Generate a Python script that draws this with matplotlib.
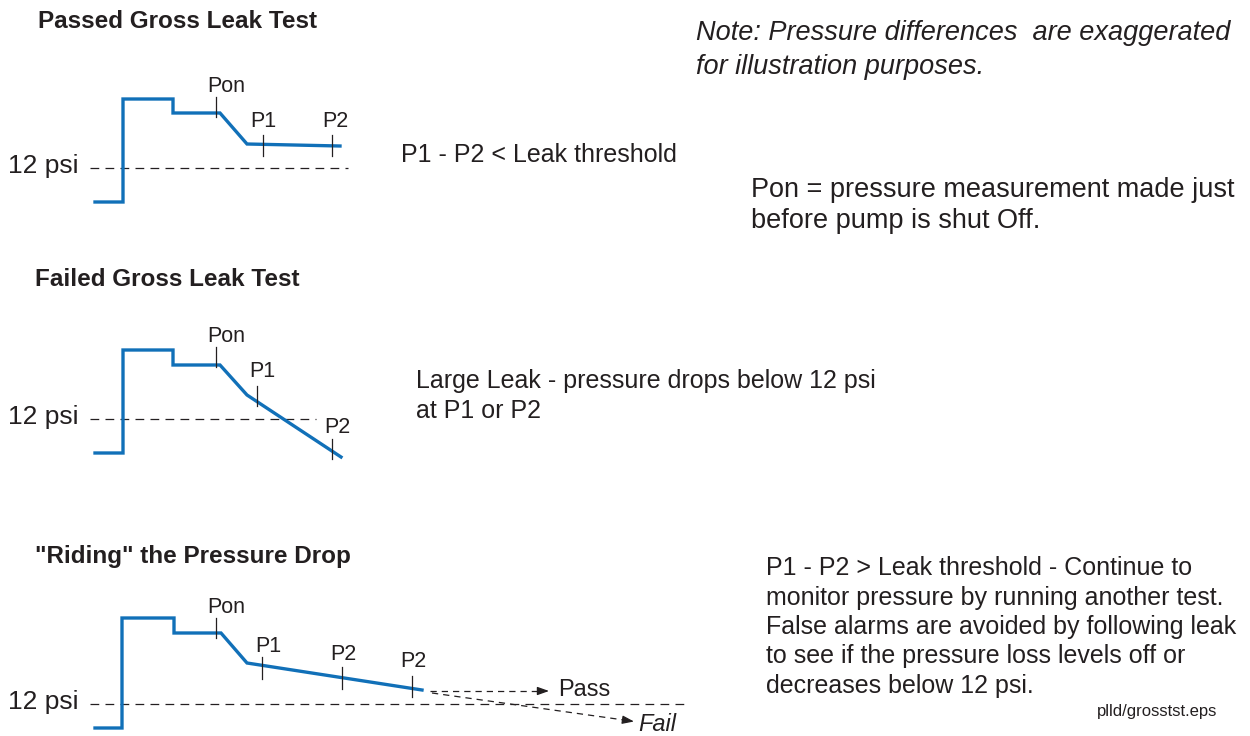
import numpy as np
import matplotlib
matplotlib.use('Agg')
import matplotlib.pyplot as plt

plt.rcParams['font.family'] = ['Liberation Sans', 'DejaVu Sans']

blue = '#1170b8'
ink = '#231f20'

# pressure traces (pixel coords of the diagram, y grows downward)
pass_x = [95, 123, 123, 173, 173, 220, 247, 340]
pass_y = [202, 202, 99, 99, 113, 113, 144, 146]
fail_x = [95, 123, 123, 173, 173, 220, 247, 341]
fail_y = [453, 453, 350, 350, 365, 365, 395, 457]
ride_x = [95, 122, 122, 174, 174, 221, 247, 422]
ride_y = [728, 728, 618, 618, 633, 633, 663, 690]

# 12 psi reference lines: y, x start, x end
ref_y = [168, 419, 704]
ref_x0 = [90, 90, 90]
ref_x1 = [348, 316, 690]

# measurement ticks: x, y top, y bottom, label, label x, label baseline
ticks = [
    (216, 97, 117, 'Pon', 226, 92),
    (263, 135, 156, 'P1', 263, 127),
    (332, 135, 156, 'P2', 335, 127),
    (216, 347, 367, 'Pon', 226, 342),
    (257, 386, 406, 'P1', 262, 377),
    (332, 439, 459, 'P2', 337, 433),
    (216, 618, 638, 'Pon', 226, 613),
    (262, 657, 679, 'P1', 268, 652),
    (342, 667, 689, 'P2', 343, 660),
    (412, 676, 697, 'P2', 413, 667),
]

titles = ['Passed Gross Leak Test', 'Failed Gross Leak Test', '"Riding" the Pressure Drop']
title_x = [38, 35, 35]
title_y = [28, 286, 563]

ride_lines = ['P1 - P2 > Leak threshold - Continue to',
              'monitor pressure by running another test.',
              'False alarms are avoided by following leak',
              'to see if the pressure loss levels off or',
              'decreases below 12 psi.']

fig = plt.figure(figsize=(12.5, 7.36), dpi=100)
ax = fig.add_axes([0, 0, 1, 1])
ax.set_xlim(0, 1250)
ax.set_ylim(736, 0)
ax.axis('off')

for y, x0, x1 in zip(ref_y, ref_x0, ref_x1):
    ax.plot([x0, x1], [y, y], color=ink, lw=0.9, dashes=(7, 5))
    ax.text(8, y + 5, '12 psi', fontsize=19, color=ink, va='baseline', ha='left')

for xs, ys in [(pass_x, pass_y), (fail_x, fail_y), (ride_x, ride_y)]:
    ax.plot(xs, ys, color=blue, lw=2.4, solid_joinstyle='miter')

for x, y0, y1, lab, lx, ly in ticks:
    ax.plot([x, x], [y0, y1], color=ink, lw=0.9)
    ax.text(lx, ly, lab, fontsize=15.5, color=ink, ha='center', va='baseline')

for t, x, y in zip(titles, title_x, title_y):
    ax.text(x, y, t, fontsize=17.5, fontweight='bold', color=ink, va='baseline')

# pass / fail continuation
ax.plot([430, 540], [691, 691], color=ink, lw=0.9, dashes=(5, 4))
ax.annotate('', xy=(549, 691), xytext=(539, 691),
            arrowprops=dict(arrowstyle='-|>,head_length=0.7,head_width=0.25',
                            color=ink, lw=0.9, shrinkA=0, shrinkB=0))
ax.plot([432, 624], [693, 720], color=ink, lw=0.9, dashes=(5, 4))
ax.annotate('', xy=(634, 721.5), xytext=(624, 720),
            arrowprops=dict(arrowstyle='-|>,head_length=0.7,head_width=0.25',
                            color=ink, lw=0.9, shrinkA=0, shrinkB=0))
ax.text(558, 696, 'Pass', fontsize=17, color=ink, va='baseline')
ax.text(638, 731, 'Fail', fontsize=17, style='italic', color=ink, va='baseline')

big = 19.5
small = 18
ax.text(696, 40, 'Note: Pressure differences  are exaggerated', fontsize=big,
        style='italic', color=ink, va='baseline')
ax.text(696, 74, 'for illustration purposes.', fontsize=big,
        style='italic', color=ink, va='baseline')
ax.text(401, 162, 'P1 - P2 < Leak threshold', fontsize=small, color=ink, va='baseline')
ax.text(751, 197, 'Pon = pressure measurement made just', fontsize=big, color=ink, va='baseline')
ax.text(751, 228, 'before pump is shut Off.', fontsize=big, color=ink, va='baseline')
ax.text(416, 388, 'Large Leak - pressure drops below 12 psi', fontsize=small, color=ink, va='baseline')
ax.text(416, 418, 'at P1 or P2', fontsize=small, color=ink, va='baseline')

for i, s in enumerate(ride_lines):
    ax.text(766, 575 + i * 29.5, s, fontsize=small, color=ink, va='baseline')

ax.text(1097, 716, 'plld/grosstst.eps', fontsize=12, color=ink, va='baseline')

fig.savefig('out.png', dpi=100, facecolor='white')
